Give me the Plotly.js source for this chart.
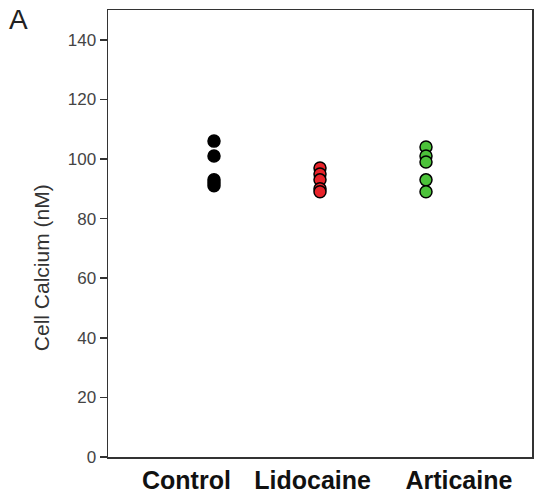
<!DOCTYPE html>
<html><head><meta charset="utf-8">
<script src="https://cdn.plot.ly/plotly-3.0.1.min.js"></script>
<style>body{margin:0;background:#fff}#c{width:534px;height:496px}</style>
</head><body><div id="c"></div>
<script>
var categories = ["Control", "Lidocaine", "Articaine"];
var controlValues = [106, 101, 93, 92, 91];
var lidocaineValues = [97, 95, 93, 90, 89];
var articaineValues = [104, 101, 99, 93, 89];
var yTicks = [0, 20, 40, 60, 80, 100, 120, 140];
var fills = ["#000000", "#e8232a", "#4cc23a"];
var series = [controlValues, lidocaineValues, articaineValues];
var labelPos = [-0.26, 0.93, 2.31];

var traces = series.map(function(vals, i){
  return {
    type: "scatter", mode: "markers",
    x: vals.map(function(){return i;}),
    y: vals,
    marker: {size: 12, color: fills[i], line: {color: "#000", width: 1.5}},
    hoverinfo: "y", showlegend: false
  };
});

var layout = {
  width: 534, height: 496,
  margin: {l: 108, r: 2, t: 10, b: 39},
  paper_bgcolor: "#fff", plot_bgcolor: "#fff",
  font: {family: "Liberation Sans, Arial, sans-serif", color: "#333"},
  xaxis: {
    range: [-1, 3], tickvals: labelPos, ticktext: categories,
    showgrid: false, zeroline: false, showline: true, mirror: true,
    linecolor: "#333", linewidth: 1.5, ticks: "", ticklabelstandoff: 0,
    tickfont: {size: 25, color: "#111", family: "Liberation Sans, Arial, sans-serif", weight: "bold"}
  },
  yaxis: {
    range: [0, 150], tickvals: yTicks,
    showgrid: false, zeroline: false, showline: true, mirror: true,
    linecolor: "#333", linewidth: 1.5, ticks: "outside", ticklen: 7, tickwidth: 1.5, tickcolor: "#333",
    tickfont: {size: 17, color: "#444"}
  },
  annotations: [{
    text: "A", xref: "paper", yref: "paper", x: -0.212, y: 0.978, xanchor: "center", yanchor: "middle",
    showarrow: false, font: {size: 28, color: "#222"}
  }, {
    text: "Cell Calcium (nM)", xref: "paper", yref: "paper", x: -0.155, y: 0.423, xanchor: "center", yanchor: "middle",
    textangle: -90, showarrow: false, font: {size: 21, color: "#333"}
  }]
};
Plotly.newPlot("c", traces, layout, {displayModeBar: false, staticPlot: true});
</script></body></html>
